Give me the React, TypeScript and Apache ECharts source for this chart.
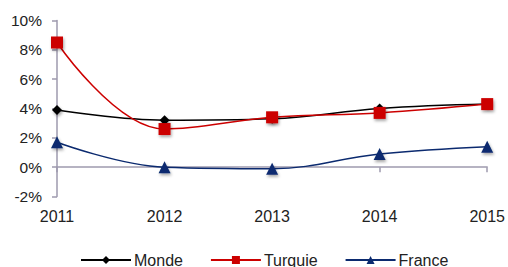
import React, { useEffect, useRef } from "react";
import * as echarts from "echarts";

const years = ["2011", "2012", "2013", "2014", "2015"];
const monde = [3.9, 3.2, 3.3, 4.0, 4.3];
const turquie = [8.5, 2.6, 3.4, 3.7, 4.3];
const france = [1.7, 0.0, -0.1, 0.9, 1.4];

const axisColor = "#9e9aae";
const font = "Liberation Sans, Arial, sans-serif";

export default function App() {
  const ref = useRef<HTMLDivElement>(null);
  useEffect(() => {
    if (!ref.current) return;
    const chart = echarts.init(ref.current, undefined, { renderer: "svg" });
    const shadow = {
      shadowBlur: 3,
      shadowColor: "rgba(0,0,0,0.35)",
      shadowOffsetX: 1,
      shadowOffsetY: 2,
    };
    chart.setOption({
      animation: false,
      grid: { left: 57, right: 19, top: 20.5, bottom: 70.5 },
      xAxis: [
        {
          type: "category",
          data: years,
          boundaryGap: false,
          axisLine: { show: false, onZero: false },
          axisTick: { show: false },
          axisLabel: { color: "#222", fontSize: 16, fontFamily: font, margin: 12 },
          splitLine: { show: false },
        },
        {
          type: "category",
          data: years,
          boundaryGap: false,
          position: "bottom",
          axisLine: { show: true, onZero: true, lineStyle: { color: axisColor, width: 1.5 } },
          axisTick: { show: true, length: 5, lineStyle: { color: axisColor, width: 1.5 } },
          axisLabel: { show: false },
          splitLine: { show: false },
        },
      ],
      yAxis: {
        type: "value",
        min: -2,
        max: 10,
        interval: 2,
        axisLine: { show: true, lineStyle: { color: axisColor, width: 1.5 } },
        axisTick: { show: true, length: 5, lineStyle: { color: axisColor, width: 1.5 } },
        axisLabel: {
          color: "#222",
          fontSize: 15.5,
          fontFamily: font,
          margin: 15,
          formatter: (v: number) => v + "%",
        },
        splitLine: { show: false },
      },
      legend: {
        left: 80,
        top: 252,
        padding: 0,
        itemWidth: 50,
        itemHeight: 10,
        itemGap: 27,
        textStyle: { color: "#222", fontSize: 16, fontFamily: font, padding: [0, 0, 0, -2] },
        data: ["Monde", "Turquie", "France"],
      },
      series: [
        {
          name: "Monde",
          type: "line",
          data: monde,
          smooth: 0.4,
          symbol: "diamond",
          symbolSize: 10,
          lineStyle: { color: "#000", width: 1.5 },
          itemStyle: { color: "#000", ...shadow },
        },
        {
          name: "Turquie",
          type: "line",
          data: turquie,
          smooth: 0.4,
          symbol: "rect",
          symbolSize: 12,
          lineStyle: { color: "#cc0000", width: 1.5 },
          itemStyle: { color: "#cc0000", ...shadow },
        },
        {
          name: "France",
          type: "line",
          data: france,
          smooth: 0.4,
          symbol: "triangle",
          symbolSize: 12,
          lineStyle: { color: "#0b2a6f", width: 1.5 },
          itemStyle: { color: "#0b2a6f", ...shadow },
        },
      ],
    });
    return () => chart.dispose();
  }, []);
  return <div ref={ref} style={{ width: 508, height: 267, position: "absolute", left: 0, top: 0 }} />;
}
